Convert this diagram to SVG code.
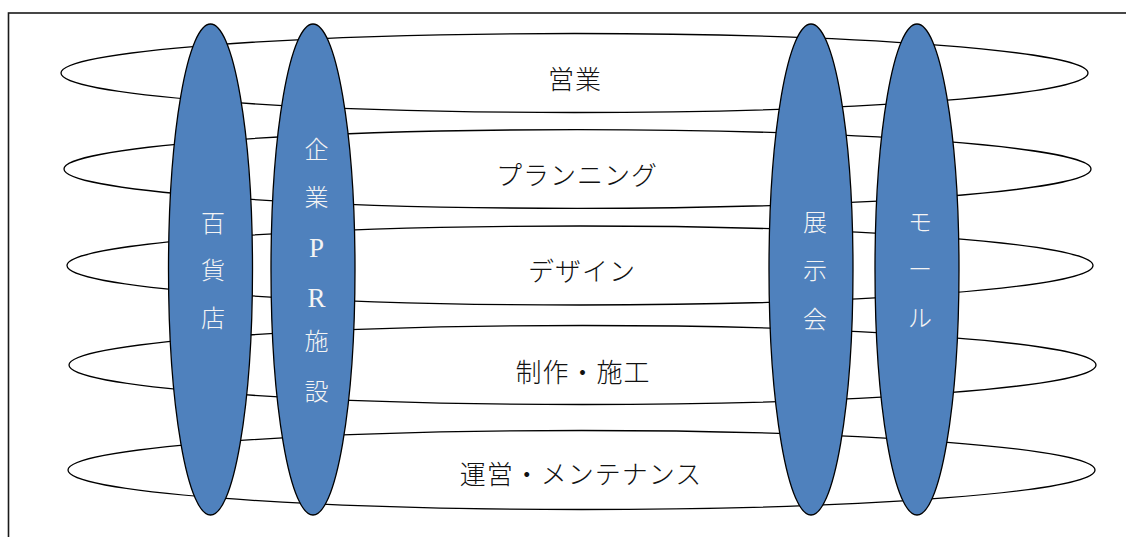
<svg xmlns="http://www.w3.org/2000/svg" width="1126" height="537" viewBox="0 0 1126 537">
<style>
.band{fill:#ffffff;stroke:#000000;stroke-width:1.3}
.pillar{fill:#4f81bd;stroke:#000000;stroke-width:1.3}
.lbl{font-family:"Liberation Serif","Noto Sans CJK JP",serif;font-size:26px;font-weight:300;letter-spacing:1px;fill:#111111;text-anchor:middle}
.vlbl{font-family:"Liberation Serif","Noto Sans CJK JP",serif;font-size:24px;font-weight:300;fill:#f4f4f4;text-anchor:middle}
.latin{font-family:"Liberation Serif",serif;font-size:27px;font-weight:normal}
</style>
<rect x="8.5" y="13" width="1130" height="540" fill="#ffffff" stroke="#1a1a1a" stroke-width="1.6"/>
<g id="band-eigyo"><ellipse class="band" cx="574.5" cy="73" rx="513.5" ry="39.5"/><text class="lbl" x="575" y="89">営業</text></g>
<g id="band-planning"><ellipse class="band" cx="577.5" cy="169" rx="513.5" ry="39.3"/><text class="lbl" x="577" y="185">プランニング</text></g>
<g id="band-design"><ellipse class="band" cx="580" cy="265.5" rx="513" ry="39.5"/><text class="lbl" x="582" y="281">デザイン</text></g>
<g id="band-seisaku"><ellipse class="band" cx="582.5" cy="365" rx="513.5" ry="39.5"/><text class="lbl" x="583" y="382">制作・施工</text></g>
<g id="band-unei"><ellipse class="band" cx="581.5" cy="470" rx="513.5" ry="39.5"/><text class="lbl" x="581" y="484">運営・メンテナンス</text></g>
<g id="pillar-hyakkaten"><ellipse class="pillar" cx="210.5" cy="269.5" rx="42" ry="245.5"/>
<text class="vlbl"><tspan x="213" y="232">百</tspan><tspan x="213" y="279">貨</tspan><tspan x="213" y="327">店</tspan></text></g>
<g id="pillar-kigyo"><ellipse class="pillar" cx="313" cy="269.5" rx="42" ry="245.5"/>
<text class="vlbl"><tspan x="316.5" y="158">企</tspan><tspan x="316.5" y="206">業</tspan><tspan class="latin" x="316.5" y="257">P</tspan><tspan class="latin" x="316.5" y="307">R</tspan><tspan x="316.5" y="350">施</tspan><tspan x="316.5" y="400">設</tspan></text></g>
<g id="pillar-tenjikai"><ellipse class="pillar" cx="811" cy="269.5" rx="42" ry="245.5"/>
<text class="vlbl"><tspan x="815" y="231">展</tspan><tspan x="815" y="279">示</tspan><tspan x="815" y="328">会</tspan></text></g>
<g id="pillar-mall"><ellipse class="pillar" cx="917" cy="269.5" rx="42" ry="245.5"/>
<text class="vlbl"><tspan x="920" y="231">モ</tspan><tspan x="920" y="278">ー</tspan><tspan x="920" y="327">ル</tspan></text></g>
</svg>
